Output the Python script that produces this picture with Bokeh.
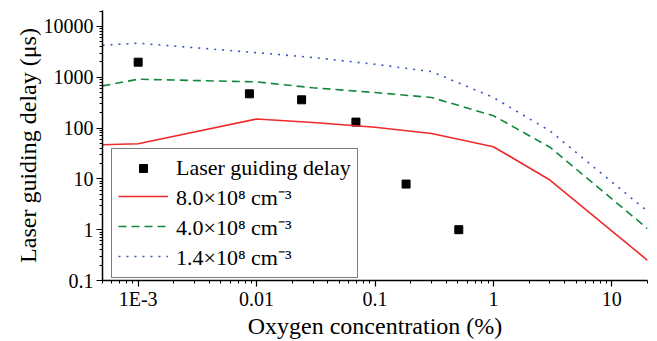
from bokeh.plotting import figure
from bokeh.models import FixedTicker, Legend, LegendItem
from bokeh.embed import file_html
from bokeh.resources import INLINE

# Data
meas_x = [0.001, 0.0087, 0.024, 0.069, 0.183, 0.51]
meas_y = [1980, 472, 360, 131, 7.9, 1.0]

sim_x = [0.0005, 0.001, 0.01, 0.03, 0.1, 0.3, 1, 3, 20]
red_y = [47, 49, 151, 129, 104, 78, 43, 9.5, 0.25]
green_y = [676, 915, 810, 620, 500, 400, 175, 42, 1.05]
blue_y = [4270, 4680, 3050, 2450, 1800, 1290, 400, 88, 2.3]

x_ticks = [0.001, 0.01, 0.1, 1, 10]
x_tick_labels = ["1E-3", "0.01", "0.1", "1", "10"]
y_ticks = [0.1, 1, 10, 100, 1000, 10000]
y_tick_labels = ["0.1", "1", "10", "100", "1000", "10000"]

FONT = "Liberation Serif"

p = figure(width=657, height=341, x_axis_type="log", y_axis_type="log",
           x_range=(0.0005, 20), y_range=(0.1, 20600),
           output_backend="svg", toolbar_location=None,
           min_border_left=102, min_border_right=10, min_border_top=10, min_border_bottom=61)
p.outline_line_color = None
p.grid.visible = False
p.background_fill_color = "white"

def minors(lo, hi):
    out = []
    e = lo
    while e < hi:
        for m in range(2, 10):
            out.append(m * 10.0 ** e)
        e += 1
    return out

p.xaxis.ticker = FixedTicker(ticks=x_ticks, minor_ticks=minors(-4, 2))
p.yaxis.ticker = FixedTicker(ticks=y_ticks, minor_ticks=minors(-1, 5))
p.xaxis.major_label_overrides = {t: l for t, l in zip(x_ticks, x_tick_labels)}
p.yaxis.major_label_overrides = {t: l for t, l in zip(y_ticks, y_tick_labels)}

for ax in (p.xaxis, p.yaxis):
    ax.axis_line_color = "black"
    ax.axis_line_width = 1.5
    ax.major_tick_line_color = "black"
    ax.minor_tick_line_color = "black"
    ax.major_tick_line_width = 1.2
    ax.major_tick_out = 6
    ax.major_tick_in = 0
    ax.minor_tick_out = 3
    ax.minor_tick_in = 0
    ax.major_label_text_font = FONT
    ax.major_label_text_font_size = "20px"
    ax.major_label_text_color = "black"
    ax.axis_label_text_font = FONT
    ax.axis_label_text_font_size = "24px"
    ax.axis_label_text_font_style = "normal"
    ax.axis_label_text_color = "black"

p.xaxis.axis_label = "Oxygen concentration (%)"
p.yaxis.axis_label = "Laser guiding delay (μs)"
p.xaxis.axis_label_standoff = 0
p.yaxis.axis_label_standoff = 0
p.xaxis.major_label_standoff = 1
p.yaxis.major_label_standoff = 3

r_meas = p.scatter(meas_x, meas_y, marker="square", size=8, color="black")
r_red = p.line(sim_x, red_y, line_color="#ee2a2a", line_width=1.6)
r_green = p.line(sim_x, green_y, line_color="#13873c", line_width=1.6, line_dash="8 5")
r_blue = p.line(sim_x, blue_y, line_color="#3c55c0", line_width=1.6, line_dash="2 6")

legend = Legend(items=[
    LegendItem(label="Laser guiding delay", renderers=[r_meas]),
    LegendItem(label="8.0×10⁸ cm⁻³", renderers=[r_red]),
    LegendItem(label="4.0×10⁸ cm⁻³", renderers=[r_green]),
    LegendItem(label="1.4×10⁸ cm⁻³", renderers=[r_blue]),
], location=(9, 2))
legend.label_text_font = FONT
legend.label_text_font_size = "22px"
legend.label_text_color = "black"
legend.glyph_width = 50
legend.glyph_height = 20
legend.label_height = 20
legend.spacing = 0
legend.padding = 6
legend.margin = 0
legend.label_standoff = 8
legend.border_line_color = "black"
legend.border_line_width = 1
legend.background_fill_alpha = 1
p.add_layout(legend, "center")

open("out.html", "w").write(file_html(p, INLINE))
